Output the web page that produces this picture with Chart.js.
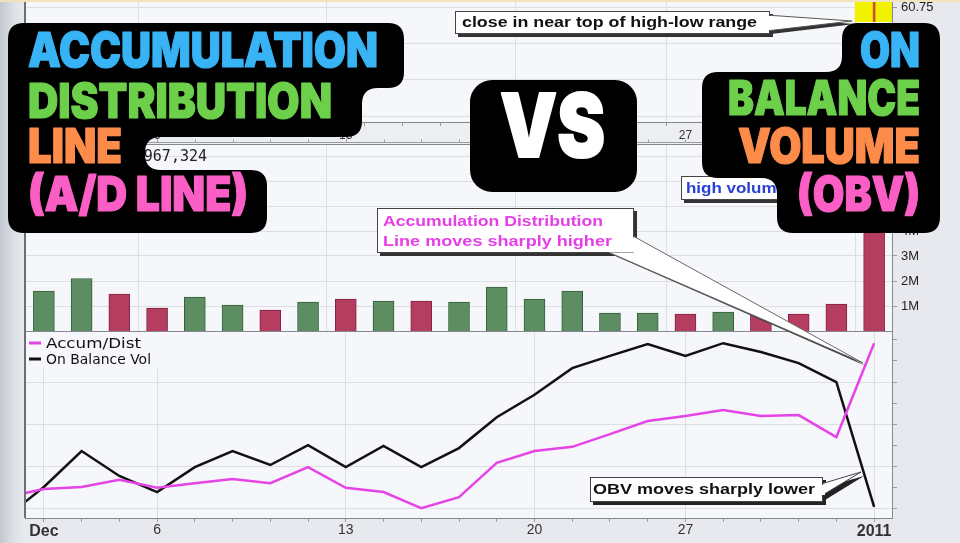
<!DOCTYPE html>
<html><head><meta charset="utf-8"><title>Accumulation Distribution Line vs On Balance Volume</title>
<script src="https://cdn.jsdelivr.net/npm/chart.js@4.4.1/dist/chart.umd.min.js"></script>
<style>
html,body{margin:0;padding:0}
body{width:960px;height:543px;overflow:hidden;position:relative;background:#e7e9ee}
#edgeL{position:absolute;left:0;top:0;width:25px;height:543px;background:linear-gradient(to right,#c3c7cf 0,#dde0e5 55%,#e8eaee 100%)}
#edgeT{position:absolute;left:0;top:0;width:960px;height:2px;background:#efe4bd}
canvas{position:absolute;left:0}
#ov{position:absolute;left:0;top:0}
.big{font-family:Inter,'Liberation Sans',Arial,sans-serif;font-weight:900;font-size:48px;stroke-width:1.2;stroke-linejoin:round;paint-order:stroke}
.call{font-family:'Liberation Sans',Arial,sans-serif;font-weight:bold}
</style></head><body>
<div id="edgeL"></div>
<canvas id="cPrice" width="960" height="144" style="top:0;width:960px;height:144px"></canvas>
<canvas id="cVol" width="960" height="187" style="top:144px;width:960px;height:187px"></canvas>
<canvas id="cInd" width="960" height="212" style="top:331px;width:960px;height:212px"></canvas>
<div id="edgeT"></div>
<svg id="ov" width="960" height="543" viewBox="0 0 960 543" xmlns="http://www.w3.org/2000/svg">
  <g class="call">
    <!-- close callout -->
    <rect x="458" y="14" width="315" height="23" fill="#333"/>
    <polygon points="771,18 855,24 771,34" fill="#333"/>
    <polygon points="766,15 852,21 766,31" fill="#fff" stroke="#555" stroke-width="1"/>
    <rect x="455.5" y="11.5" width="314" height="22" fill="#fff" stroke="#444" stroke-width="1"/>
    <rect x="767" y="16" width="4" height="14" fill="#fff"/>
    <text x="462" y="27" font-size="14" textLength="295" lengthAdjust="spacingAndGlyphs" fill="#111">close in near top of high-low range</text>
    <!-- A/D callout -->
    <rect x="380" y="211" width="257" height="45" fill="#333"/>
    <polygon points="613,255 866,366 636,239" fill="#333"/>
    <polygon points="608,252 863,363 633,236" fill="#fff" stroke="#666" stroke-width="1"/>
    <rect x="377.5" y="208.5" width="256" height="44" fill="#fff" stroke="#444" stroke-width="1"/>
    <polygon points="609,252.5 634,252.5 634,237" fill="#fff"/>
    <text x="383" y="226" font-size="15" textLength="220" lengthAdjust="spacingAndGlyphs" fill="#e63fe6">Accumulation Distribution</text>
    <text x="383" y="246" font-size="15" textLength="229" lengthAdjust="spacingAndGlyphs" fill="#e63fe6">Line moves sharply higher</text>
    <!-- high volume callout -->
    <rect x="684" y="179" width="120" height="24" fill="#333"/>
    <rect x="681.5" y="176.5" width="120" height="23" fill="#fff" stroke="#444" stroke-width="1"/>
    <text x="686" y="193" font-size="15" textLength="100" lengthAdjust="spacingAndGlyphs" fill="#2a40d2">high volume</text>
    <!-- OBV callout -->
    <rect x="593" y="480" width="233" height="25" fill="#222"/>
    <polygon points="825,487 864,476 825,500" fill="#222"/>
    <polygon points="821,484 861,472 821,496" fill="#fff" stroke="#444" stroke-width="1"/>
    <rect x="590.5" y="477.5" width="232" height="24" fill="#fff" stroke="#444" stroke-width="1"/>
    <rect x="821" y="485" width="4" height="10" fill="#fff"/>
    <text x="593" y="494" font-size="15" textLength="222" lengthAdjust="spacingAndGlyphs" fill="#111">OBV moves sharply lower</text>
  </g>
  <path id="blobL" fill="#000"/>
  <path id="blobR" fill="#000"/>
  <rect x="470" y="80" width="167" height="112" rx="22" fill="#000"/>
  <text class="big" x="28" y="67" textLength="350" lengthAdjust="spacingAndGlyphs" fill="#38b3f5" stroke="#38b3f5">ACCUMULATION</text>
  <text class="big" x="28" y="118" textLength="304" lengthAdjust="spacingAndGlyphs" fill="#6dd04a" stroke="#6dd04a">DISTRIBUTION</text>
  <text class="big" x="28" y="163" textLength="94" lengthAdjust="spacingAndGlyphs" fill="#fd8b4a" stroke="#fd8b4a">LINE</text>
  <text class="big" x="28" y="211" textLength="220" lengthAdjust="spacingAndGlyphs" fill="#fb5fc6" stroke="#fb5fc6">(A/D LINE)</text>
  <text class="big" x="500" y="157" textLength="105" lengthAdjust="spacingAndGlyphs" fill="#fff" stroke="#fff" style="font-size:88px;stroke-width:2">VS</text>
  <text class="big" x="860" y="67" textLength="60" lengthAdjust="spacingAndGlyphs" fill="#38b3f5" stroke="#38b3f5">ON</text>
  <text class="big" x="728" y="115" textLength="192" lengthAdjust="spacingAndGlyphs" fill="#6dd04a" stroke="#6dd04a">BALANCE</text>
  <text class="big" x="738" y="163" textLength="182" lengthAdjust="spacingAndGlyphs" fill="#fd8b4a" stroke="#fd8b4a">VOLUME</text>
  <text class="big" x="797" y="211" textLength="123" lengthAdjust="spacingAndGlyphs" fill="#fb5fc6" stroke="#fb5fc6">(OBV)</text>
</svg>
<script>
// ---------------- data ----------------
const dates = ['Nov 30','Dec 1','Dec 2','Dec 3','Dec 6','Dec 7','Dec 8','Dec 9','Dec 10','Dec 13','Dec 14','Dec 15','Dec 16','Dec 17','Dec 20','Dec 21','Dec 22','Dec 23','Dec 27','Dec 28','Dec 29','Dec 30','Dec 31','Jan 3'];
const axisLabels = ['','Dec','','','6','','','','','13','','','','','20','','','','27','','','','','2011'];
const volumeM = [null,1.60,2.10,1.48,0.92,1.36,1.04,0.84,1.16,1.28,1.20,1.20,1.16,1.76,1.28,1.60,0.72,0.72,0.68,0.76,0.68,0.68,1.08,6.967324];
const closeDir = [null,'up','up','down','down','up','up','down','up','down','up','down','up','up','up','up','up','up','down','up','down','down','down','down'];
const accumDist = [0.28,0.47,0.52,0.69,0.50,0.61,0.71,0.61,0.99,0.50,0.40,0.02,0.28,1.09,1.37,1.47,1.77,2.08,2.20,2.34,2.20,2.22,1.70,3.92];
const onBalanceVol = [-0.19,0.52,1.37,0.78,0.40,0.99,1.37,1.04,1.51,0.99,1.49,0.99,1.44,2.17,2.70,3.33,3.62,3.90,3.62,3.92,3.71,3.45,3.00,0.05];
const priceHigh = [null,null,null,null,null,null,null,null,null,null,null,null,null,null,null,null,null,null,null,null,null,null,null,61.2];
const priceLow  = [null,null,null,null,null,null,null,null,null,null,null,null,null,null,null,null,null,null,null,null,null,null,null,60.65];
const priceTicks = [60.0,60.25,60.5,60.75];
const volumeTicksM = [1,2,3,4,5,6,7];
const indicatorTicks = [0,0.5,1,1.5,2,2.5,3,3.5,4];

// ---------------- styling ----------------
const FONT = "'Liberation Sans', Arial, sans-serif";
const GRID = '#dcdee4', PANEL = '#f6f7fa', EDGE = '#858890', TICKC = '#9a9da4';
Chart.defaults.font.family = FONT;
Chart.defaults.color = '#333';

const isWeek = v => { const l = axisLabels[Math.round(v)]; return l !== undefined && l !== ''; };
const dayTicks = s => { s.ticks = dates.map((d,i)=>({value:i})).slice(1); };
function noPad(s){ s.paddingTop = 0; s.paddingBottom = 0; s.paddingLeft = 0; s.paddingRight = 0; }
const fitH = h => s => { s.height = h; noPad(s); };
const fitW = w => s => { s.width = w; noPad(s); };

function xAxis(showLabels, labelOpts, h){
  return {
    type:'linear', min:0.5, max:23.5, offset:false, bounds:'data',
    afterBuildTicks: dayTicks,
    ticks: Object.assign({display:showLabels, autoSkip:false, maxRotation:0, minRotation:0,
      callback:(v)=>axisLabels[Math.round(v)] || ''}, labelOpts||{}),
    grid:{color:(c)=> (c.tick && isWeek(c.tick.value)) ? GRID : 'rgba(0,0,0,0)', lineWidth:1,
      drawTicks:showLabels, tickLength:4, tickColor:TICKC},
    border:{display:false},
    afterFit: fitH(h)
  };
}
function panelPlugin(extra){
  return {
    id:'panel',
    beforeDraw(chart){
      const {ctx, chartArea:a} = chart;
      ctx.save();
      ctx.fillStyle = PANEL;
      ctx.fillRect(a.left, a.top, a.right-a.left, a.bottom-a.top);
      if (extra && extra.strip){
        ctx.fillStyle = '#eceef2';
        ctx.fillRect(a.left, a.bottom, a.right-a.left, chart.height-a.bottom);
      }
      ctx.restore();
    },
    afterDraw(chart){
      const {ctx, chartArea:a} = chart;
      ctx.save();
      ctx.strokeStyle = EDGE; ctx.lineWidth = 1;
      ctx.strokeRect(a.left+0.5, a.top+0.5, a.right-a.left-1, a.bottom-a.top);
      ctx.strokeStyle = '#6c6f77'; ctx.lineWidth = 2;
      ctx.beginPath(); ctx.moveTo(a.left, a.top); ctx.lineTo(a.left, a.bottom); ctx.stroke();
      if (extra && extra.strip){
        const yb = chart.height - 1.5;
        ctx.strokeStyle = '#9a9da4'; ctx.lineWidth = 1;
        ctx.beginPath(); ctx.moveTo(a.left, yb); ctx.lineTo(a.right, yb); ctx.stroke();
        const xs = chart.scales.x;
        ctx.beginPath();
        xs.ticks.forEach(t => { const px = Math.round(xs.getPixelForValue(t.value))+0.5; ctx.moveTo(px, yb); ctx.lineTo(px, yb-3); });
        ctx.stroke();
      }
      ctx.restore();
    }
  };
}
function fitText(ctx, text, x, y, w){
  const m = ctx.measureText(text).width;
  ctx.save(); ctx.translate(x, y); ctx.scale(w/m, 1); ctx.fillText(text, 0, 0); ctx.restore();
}
const common = {
  responsive:false, animation:false, events:[],
  layout:{padding:{left:25,right:0,top:0,bottom:0}, autoPadding:false},
  plugins:{legend:{display:false}, tooltip:{enabled:false}}
};

// ---------------- price panel ----------------
const priceBars = [], priceHighlight = [];
dates.forEach((d,i)=>{ if (priceHigh[i]!=null){ priceBars.push({x:i, y:[priceLow[i], priceHigh[i]]}); priceHighlight.push({x:i, y:[priceLow[i], priceHigh[i]+1]}); } });
new Chart(document.getElementById('cPrice'), {
  type:'bar',
  data:{datasets:[
    {label:'Price', data:priceBars, backgroundColor:'#c9532c', barThickness:2, grouped:false, order:1},
    {label:'Highlight', data:priceHighlight, backgroundColor:'#f2f200', barThickness:38, grouped:false, order:2}
  ]},
  options:Object.assign({}, common, {
    scales:{
      x: xAxis(true, {padding:2, color:'#333', font:{size:12, family:FONT}}, 22),
      y:{position:'right', min:59.962, max:60.798, bounds:'data',
         afterBuildTicks:s=>{ s.ticks = priceTicks.map(v=>({value:v})); },
         ticks:{callback:v=>Number(v).toFixed(2), padding:4, color:'#222', font:{size:13, family:FONT}},
         grid:{color:GRID, tickLength:4, tickColor:TICKC}, border:{display:false},
         afterFit: fitW(67)}
    }
  }),
  plugins:[panelPlugin({strip:true})]
});

// ---------------- volume panel ----------------
const volLabelPlugin = {
  id:'volLabel',
  afterDatasetsDraw(chart){
    const {ctx, chartArea:a} = chart;
    const last = volumeM[volumeM.length-1];
    const txt = 'Volume ' + Math.round(last*1e6).toLocaleString('en-US');
    ctx.save();
    ctx.font = "15px 'DejaVu Sans Mono', monospace"; ctx.fillStyle = '#222';
    ctx.textAlign = 'right'; ctx.textBaseline = 'middle';
    ctx.fillText(txt, 207, a.top + 13);
    ctx.restore();
  }
};
const volPts = [], volFill = [], volBorder = [];
dates.forEach((d,i)=>{ if (volumeM[i]!=null){ volPts.push({x:i, y:volumeM[i]}); const up = closeDir[i]==='up';
  volFill.push(up ? '#5d8e61' : '#b53d60'); volBorder.push(up ? '#355f3b' : '#86223f'); } });
new Chart(document.getElementById('cVol'), {
  type:'bar',
  data:{datasets:[{label:'Volume', data:volPts, backgroundColor:volFill, borderColor:volBorder, borderWidth:1, barThickness:21, grouped:false}]},
  options:Object.assign({}, common, {
    scales:{
      x: xAxis(false, null, 0),
      y:{position:'right', min:0, max:7.48, bounds:'data',
         afterBuildTicks:s=>{ s.ticks = volumeTicksM.map(v=>({value:v})); },
         ticks:{callback:v=>v+'M', padding:4, color:'#222', font:{size:13, family:FONT}},
         grid:{color:GRID, tickLength:4, tickColor:TICKC}, border:{display:false},
         afterFit: fitW(67)}
    }
  }),
  plugins:[panelPlugin(), volLabelPlugin]
});

// ---------------- indicator panel ----------------
const legendWidths = [95, 105];
const legendPlugin = {
  id:'inlineLegend',
  beforeDatasetsDraw(chart){
    const {ctx, chartArea:a} = chart;
    ctx.save();
    ctx.fillStyle = PANEL;
    ctx.fillRect(a.left+2, a.top+2, 133, 34);
    chart.data.datasets.forEach((ds,i)=>{
      const y = a.top + 12 + i*16;
      ctx.strokeStyle = ds.borderColor; ctx.lineWidth = 3;
      ctx.beginPath(); ctx.moveTo(a.left+4, y); ctx.lineTo(a.left+16, y); ctx.stroke();
      ctx.fillStyle = '#111'; ctx.font = "14px 'DejaVu Sans', sans-serif"; ctx.textBaseline = 'middle';
      fitText(ctx, ds.label, a.left+21, y+1, legendWidths[i]);
    });
    ctx.restore();
  }
};
new Chart(document.getElementById('cInd'), {
  type:'line',
  data:{datasets:[
    {label:'Accum/Dist', data:accumDist.map((v,i)=>({x:i,y:v})), borderColor:'#e544e6', borderWidth:2.5, pointRadius:0, tension:0, clip:0},
    {label:'On Balance Vol', data:onBalanceVol.map((v,i)=>({x:i,y:v})), borderColor:'#111111', borderWidth:2.5, pointRadius:0, tension:0, clip:0}
  ]},
  options:Object.assign({}, common, {
    scales:{
      x: xAxis(true, {padding:0, color:'#333',
          font:(c)=>{ const l = c.tick ? axisLabels[Math.round(c.tick.value)] : '';
            return (l==='Dec'||l==='2011') ? {size:16, weight:'bold', family:FONT} : {size:14, family:FONT}; }}, 25),
      y:{position:'right', min:-0.213, max:4.208, bounds:'data',
         afterBuildTicks:s=>{ s.ticks = indicatorTicks.map(v=>({value:v})); },
         ticks:{callback:()=> '', padding:0},
         grid:{color:(c)=>{ const v = c.tick ? c.tick.value : 0.5; return (Number.isInteger(v) && v < 4) ? GRID : 'rgba(0,0,0,0)'; }, tickLength:4, tickColor:TICKC},
         border:{display:false},
         afterFit: fitW(67)}
    }
  }),
  plugins:[panelPlugin(), legendPlugin]
});

// ---------------- overlay shapes ----------------
function roundedPath(pts, r){
  let d = ''; const n = pts.length;
  for (let i=0;i<n;i++){
    const p0 = pts[(i-1+n)%n], p1 = pts[i], p2 = pts[(i+1)%n];
    const l1 = Math.hypot(p1[0]-p0[0], p1[1]-p0[1]), l2 = Math.hypot(p2[0]-p1[0], p2[1]-p1[1]);
    const rr = Math.min(r, l1/2, l2/2);
    const a = [p1[0]+(p0[0]-p1[0])*rr/l1, p1[1]+(p0[1]-p1[1])*rr/l1];
    const b = [p1[0]+(p2[0]-p1[0])*rr/l2, p1[1]+(p2[1]-p1[1])*rr/l2];
    d += (i===0?'M':'L') + a[0] + ',' + a[1] + ' Q' + p1[0] + ',' + p1[1] + ' ' + b[0] + ',' + b[1] + ' ';
  }
  return d + 'Z';
}
document.getElementById('blobL').setAttribute('d', roundedPath([[8,23],[404,23],[404,88],[362,88],[362,137],[145,137],[145,170],[267,170],[267,233],[8,233]], 16));
document.getElementById('blobR').setAttribute('d', roundedPath([[842,23],[940,23],[940,233],[777,233],[777,178],[702,178],[702,72],[842,72]], 16));
</script>
</body></html>
